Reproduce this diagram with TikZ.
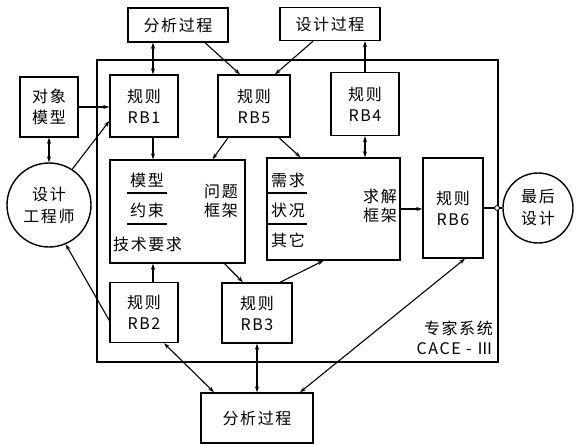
\documentclass[tikz,border=0pt]{standalone}
\usepackage{fontspec}
\setmainfont[LetterSpace=10]{Noto Sans CJK SC}
\usetikzlibrary{arrows.meta,decorations.markings}
\begin{document}
\begin{tikzpicture}[x=1pt,y=-1pt,
  box/.style={draw,line width=1.4pt,align=center,inner sep=0pt,fill=white,font=\fontsize{16}{21}\selectfont},
  rnd/.style={draw,circle,line width=1.4pt,align=center,inner sep=0pt,font=\fontsize{16}{22}\selectfont},
  txt/.style={inner sep=0pt,align=center,font=\fontsize{16}{19}\selectfont},
  conn/.style={line width=1.1pt},
  ring/.style={postaction={decorate,decoration={markings,mark=at position #1 with {\draw[fill=white,line width=0.8pt] (0,0) circle (2.4pt);}}}},
  >={Stealth[open,length=6pt,width=4pt]}
]
\useasboundingbox (0,0) rectangle (582,445);
% expert system frame
\draw[line width=1.4pt] (97,60) rectangle (498,362);
\node[txt,anchor=east] (es1) at (493,328) {专家系统};
\node[txt,anchor=east] (es2) at (493,349) {CACE - Ⅲ};

% boxes
\node[box,minimum width=100pt,minimum height=34pt] (ana1) at (178,25) {分析过程};
\node[box,minimum width=100pt,minimum height=33pt] (des) at (330,24) {设计过程};
\node[box,minimum width=58pt,minimum height=60pt] (obj) at (49,107) {对象\\模型};
\node[box,minimum width=68pt,minimum height=62pt] (rb1) at (144,106) {规则\\RB1};
\node[box,minimum width=72pt,minimum height=62pt] (rb5) at (254,106) {规则\\RB5};
\node[box,minimum width=68pt,minimum height=63pt] (rb4) at (365,104) {规则\\RB4};
\node[rnd,minimum size=84pt] (eng) at (49,205) {设计\\工程师};
\node[box,minimum width=135pt,minimum height=103pt] (prob) at (177.5,211.5) {};
\node[box,minimum width=133pt,minimum height=102pt] (sol) at (333.5,209) {};
\node[box,minimum width=60pt,minimum height=100pt] (rb6) at (453,208) {规则\\RB6};
\node[rnd,minimum size=70pt] (fin) at (538,208) {最后\\设计};
\node[box,minimum width=68pt,minimum height=60pt] (rb2) at (144,312.5) {规则\\RB2};
\node[box,minimum width=70pt,minimum height=60pt] (rb3) at (257,313) {规则\\RB3};
\node[box,minimum width=112pt,minimum height=50pt] (ana2) at (257,418) {分析过程};

% problem frame contents
\node[txt] (p1) at (147,180) {模型};
\node[txt] (p2) at (147,210) {约束};
\node[txt,anchor=west] (p3) at (113,244) {技术要求};
\node[txt] (p4) at (221,201) {问题\\框架};
\draw[line width=1.1pt] (127,193) -- (167,193);
\draw[line width=1.1pt] (127,224) -- (167,224);
% solution frame contents
\node[txt] (s1) at (288,180) {需求};
\node[txt] (s2) at (288,210) {状况};
\node[txt] (s3) at (288,240) {其它};
\node[txt] (s4) at (380,206) {求解\\框架};
\draw[line width=1.1pt] (268,193) -- (307,193);
\draw[line width=1.1pt] (268,224) -- (307,224);

% connectors
\draw[conn,<->] ([xshift=-25pt]ana1.south) -- ([xshift=9pt]rb1.north);
\draw[conn,->] ([xshift=27pt]ana1.south) -- ([xshift=-14pt]rb5.north);
\draw[conn,->] ([xshift=-17pt]des.south) -- ([xshift=21pt]rb5.north);
\draw[conn,->] (rb4.north) -- (rb4.north |- des.south);
\draw[conn,->] (obj.east) -- (obj.east -| rb1.west);
\draw[conn,<->] (obj.south) -- (eng.north);
\draw[conn,->] (eng.57) -- ([yshift=-15pt]rb1.west);
\draw[conn,->] ([yshift=-8pt]rb2.west) -- (eng.-67);
\draw[conn,->] ([xshift=9pt]rb1.south) -- ([xshift=9pt]rb1.south |- prob.north);
\draw[conn,->] ([xshift=-26pt]rb5.south) -- ([xshift=35pt]prob.north);
\draw[conn,->] ([xshift=25pt]rb5.south) -- ([xshift=-33pt]sol.north);
\draw[conn,<->] (rb4.south) -- (rb4.south |- sol.north);
\draw[conn,->] (sol.east) -- (sol.east -| rb6.west);
\draw[conn,ring=0.72] (rb6.east) -- (fin.west);
\draw[conn,->] ([xshift=9pt]rb2.north) -- ([xshift=9pt]rb2.north |- prob.south);
\draw[conn,->] ([xshift=47pt]prob.south) -- ([xshift=-14pt]rb3.north);
\draw[conn,->] ([xshift=23pt]rb3.north) -- ([xshift=-10pt]sol.south);
\draw[conn,<->] ([xshift=20pt]rb2.south) -- ([xshift=-43pt]ana2.north);
\draw[conn,<->] (rb3.south) -- (ana2.north);
\draw[conn,<->] ([xshift=12pt]rb6.south) -- ([xshift=43pt]ana2.north);
\end{tikzpicture}
\end{document}
